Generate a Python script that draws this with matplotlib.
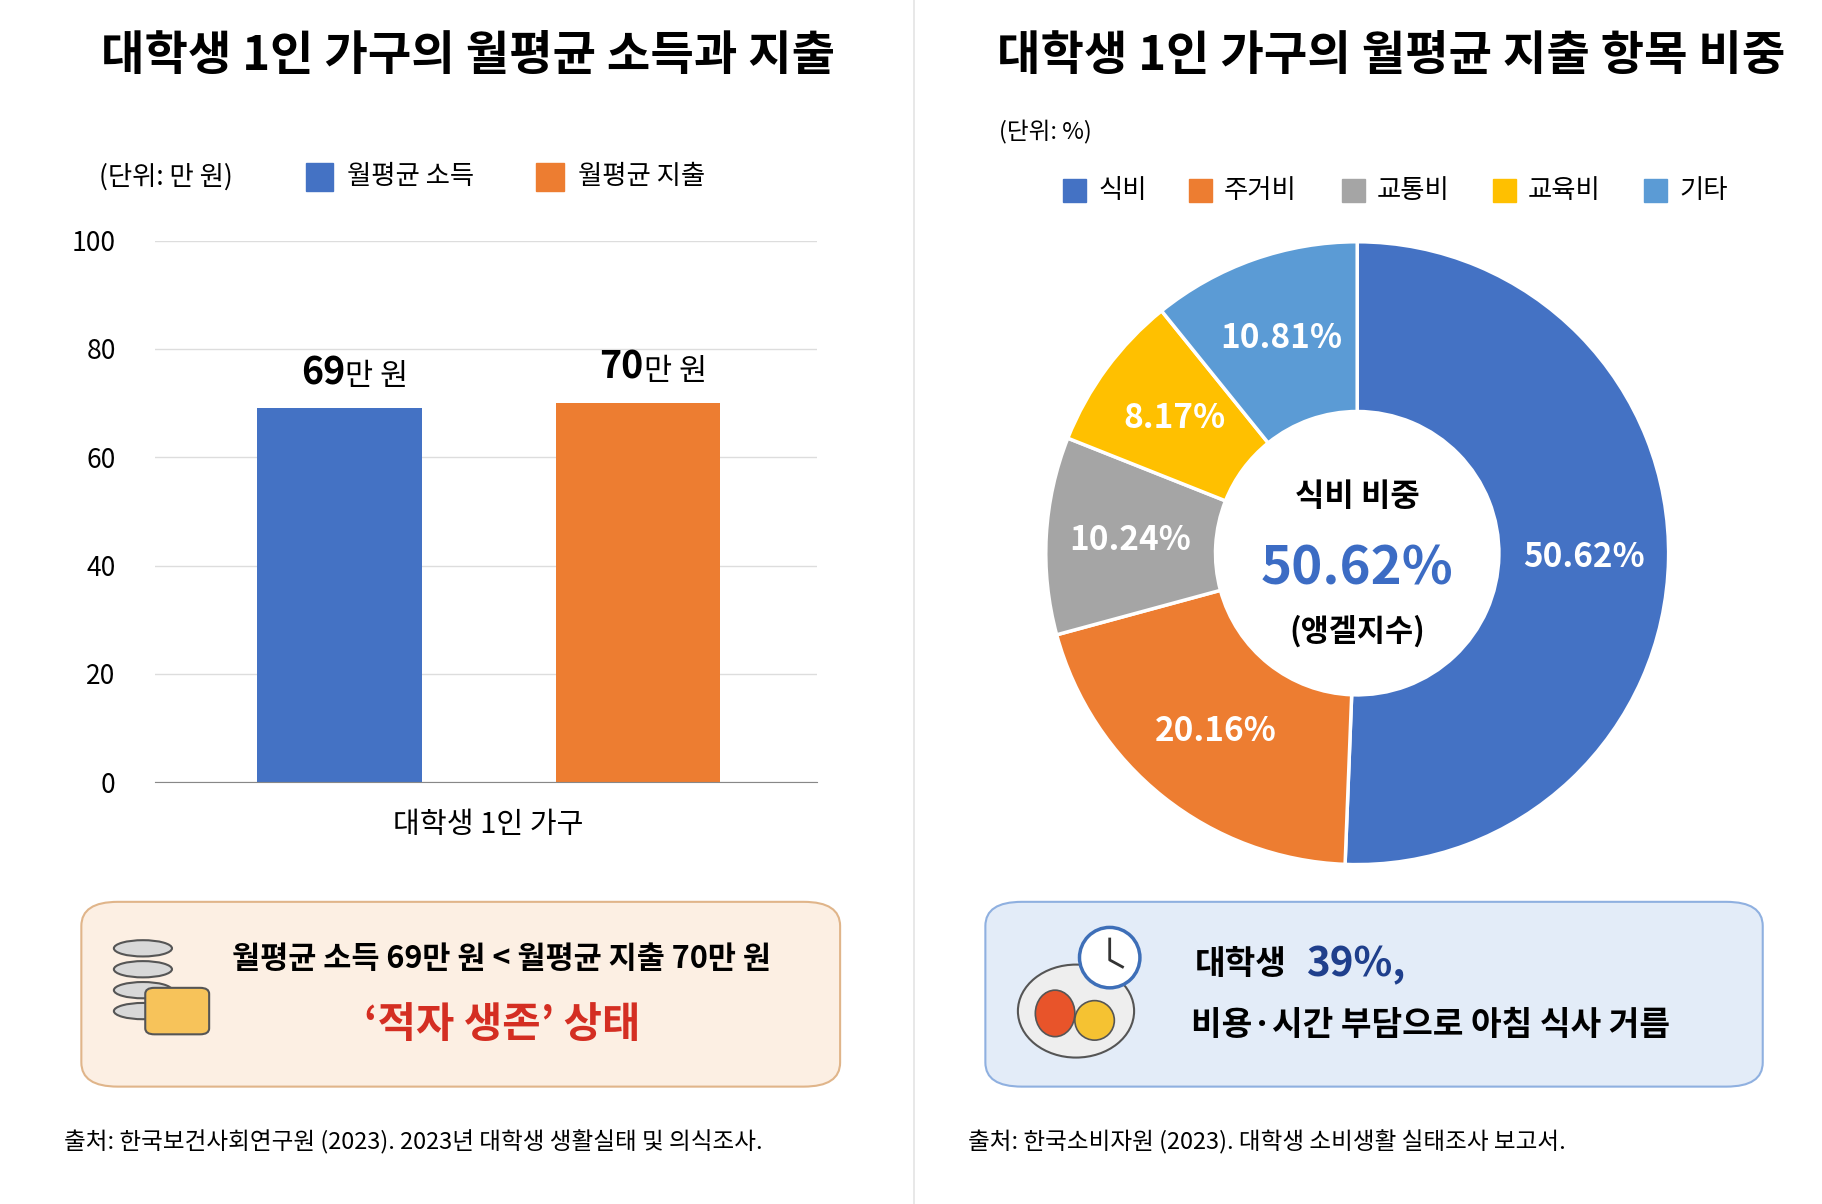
import matplotlib.pyplot as plt
import numpy as np
from matplotlib.patches import FancyBboxPatch, Ellipse, Rectangle

plt.rcParams['font.family'] = ['Noto Sans CJK KR', 'DejaVu Sans']

# data
bar_names = ['월평균 소득', '월평균 지출']
bar_values = [69, 70]
bar_labels = ['69', '70']
bar_colors = ['#4472C4', '#ED7D31']

pie_names = ['식비', '주거비', '교통비', '교육비', '기타']
pie_values = [50.62, 20.16, 10.24, 8.17, 10.81]
pie_colors = ['#4472C4', '#ED7D31', '#A5A5A5', '#FFC000', '#5B9BD5']

W, H = 1568, 1036  # layout reference in px
def fx(x): return x / W
def fy(y): return 1 - y / H

fig = plt.figure(figsize=(18.22, 12.04), dpi=100)
fig.patch.set_facecolor('white')

# titles
fig.text(fx(403), fy(48), '대학생 1인 가구의 월평균 소득과 지출', ha='center', va='center',
         fontsize=34, fontweight='bold')
fig.text(fx(1197), fy(48), '대학생 1인 가구의 월평균 지출 항목 비중', ha='center', va='center',
         fontsize=34, fontweight='bold')
fig.add_artist(plt.Line2D([fx(787), fx(787)], [0, 1], color='#E4E4E4', lw=1.2))

# bar chart
ax = fig.add_axes([fx(133), fy(673), fx(703 - 133), (673 - 207) / H])
ax.bar([0, 1], bar_values, width=0.55, color=bar_colors)
ax.set_xlim(-0.62, 1.6)
ax.set_ylim(0, 100)
ax.set_yticks(range(0, 101, 20))
ax.tick_params(axis='y', length=0, labelsize=19, pad=28)
ax.set_xticks([])
ax.grid(axis='y', color='#DDDDDD', lw=1)
ax.set_axisbelow(True)
for s in ['top', 'right', 'left']:
    ax.spines[s].set_visible(False)
ax.spines['bottom'].set_color('#888888')
for i, (v, lab) in enumerate(zip(bar_values, bar_labels)):
    ax.text(i + 0.02, v + 3, lab, ha='right', va='bottom', fontsize=27, fontweight='bold')
    ax.text(i + 0.02, v + 3, '만 원', ha='left', va='bottom', fontsize=22)
ax.text(0.5, -8, '대학생 1인 가구', ha='center', va='center', fontsize=21)
fig.text(fx(85), fy(152), '(단위: 만 원)', ha='left', va='center', fontsize=19)
for x, name, c in [(263, bar_names[0], bar_colors[0]), (461, bar_names[1], bar_colors[1])]:
    fig.patches.append(Rectangle((fx(x), fy(164)), fx(24), 24 / H, color=c, transform=fig.transFigure))
    fig.text(fx(x + 36), fy(152), name, ha='left', va='center', fontsize=19)

# donut
r = 268
pax = fig.add_axes([fx(1168 - r), fy(476 + r), fx(2 * r), 2 * r / H])
wedges, _ = pax.pie(pie_values, colors=pie_colors, startangle=90, counterclock=False,
                    wedgeprops=dict(width=0.545, edgecolor='white', linewidth=2.5))
pax.set_xlim(-1, 1)
pax.set_ylim(-1, 1)
pax.set_aspect('equal')
ang = 90
for v, w in zip(pie_values, wedges):
    mid = np.deg2rad(ang - v * 3.6 / 2)
    ang -= v * 3.6
    pax.text(0.73 * np.cos(mid), 0.73 * np.sin(mid), f'{v:.2f}%', ha='center', va='center',
             color='white', fontsize=24, fontweight='bold')
pax.text(0, 0.18, '식비 비중', ha='center', va='center', fontsize=23, fontweight='bold')
pax.text(0, -0.05, '50.62%', ha='center', va='center', fontsize=38, fontweight='bold', color='#3C6CC4')
pax.text(0, -0.25, '(앵겔지수)', ha='center', va='center', fontsize=22, fontweight='bold')
fig.text(fx(860), fy(114), '(단위: %)', ha='left', va='center', fontsize=17)
for x, name, c in zip([915, 1023, 1155, 1285, 1415], pie_names, pie_colors):
    fig.patches.append(Rectangle((fx(x), fy(174)), fx(20), 20 / H, color=c, transform=fig.transFigure))
    fig.text(fx(x + 30), fy(164), name, ha='left', va='center', fontsize=19)

# callout boxes
fig.patches.append(FancyBboxPatch((fx(70), fy(935)), fx(653), 159 / H, boxstyle='round,pad=0,rounding_size=0.02',
                                  fc='#FCEFE3', ec='#E0B58A', lw=1.5, transform=fig.transFigure))
fig.patches.append(FancyBboxPatch((fx(848), fy(935)), fx(669), 159 / H, boxstyle='round,pad=0,rounding_size=0.02',
                                  fc='#E3ECF8', ec='#8FB0E0', lw=1.5, transform=fig.transFigure))
# simple icons
for k in range(4):
    fig.patches.append(Ellipse((fx(123), fy(870 - k * 18)), fx(50), 14 / H, fc='#D8D8D8', ec='#555555',
                               lw=1.5, transform=fig.transFigure))
fig.patches.append(FancyBboxPatch((fx(125), fy(890)), fx(55), 40 / H, boxstyle='round,pad=0,rounding_size=0.005',
                                  fc='#F7C35A', ec='#555555', lw=1.5, transform=fig.transFigure))
fig.patches.append(Ellipse((fx(926), fy(870)), fx(100), 80 / H, fc='#EEEEEE', ec='#555555', lw=1.5,
                           transform=fig.transFigure))
fig.patches.append(Ellipse((fx(908), fy(872)), fx(34), 40 / H, fc='#E8542A', ec='#555555', lw=1.2,
                           transform=fig.transFigure))
fig.patches.append(Ellipse((fx(942), fy(878)), fx(34), 34 / H, fc='#F5C232', ec='#555555', lw=1.2,
                           transform=fig.transFigure))
fig.patches.append(Ellipse((fx(955), fy(824)), fx(52), 52 / H, fc='white', ec='#3E6FB8', lw=2.5,
                           transform=fig.transFigure))
fig.add_artist(plt.Line2D([fx(955), fx(955), fx(966)], [fy(808), fy(826), fy(832)], color='#333333', lw=2))

fig.text(fx(200), fy(825), '월평균 소득 69만 원 < 월평균 지출 70만 원', ha='left', va='center',
         fontsize=22, fontweight='bold')
fig.text(fx(432), fy(882), '‘적자 생존’ 상태', ha='center', va='center', fontsize=30,
         fontweight='bold', color='#D42E22')
fig.text(fx(1028), fy(830), '대학생', ha='left', va='center', fontsize=24, fontweight='bold')
fig.text(fx(1124), fy(830), '39%,', ha='left', va='center', fontsize=29, fontweight='bold', color='#1F3F8C')
fig.text(fx(1025), fy(882), '비용·시간 부담으로 아침 식사 거름', ha='left', va='center', fontsize=24, fontweight='bold')

# sources
fig.text(fx(55), fy(983), '출처: 한국보건사회연구원 (2023). 2023년 대학생 생활실태 및 의식조사.',
         ha='left', va='center', fontsize=17)
fig.text(fx(833), fy(983), '출처: 한국소비자원 (2023). 대학생 소비생활 실태조사 보고서.',
         ha='left', va='center', fontsize=17)

fig.savefig('out.png', dpi=100)
